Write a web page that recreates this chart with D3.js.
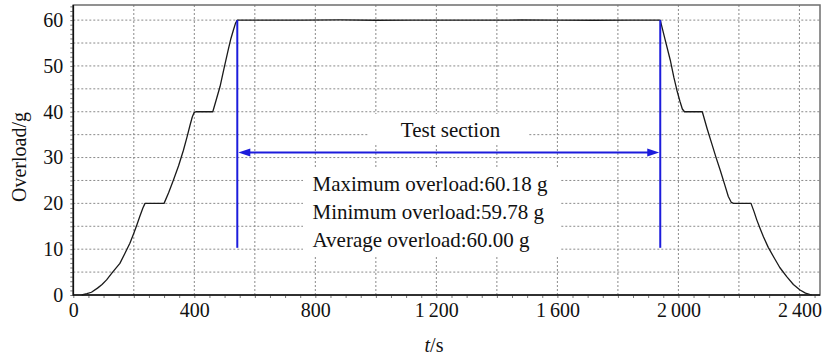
<!DOCTYPE html>
<html>
<head>
<meta charset="utf-8">
<script src="https://cdn.jsdelivr.net/npm/d3@7"></script>
</head>
<body style="margin:0">
<svg id="chart" width="826" height="358" font-family="Liberation Serif"></svg>
<script>
// Overload profile of the centrifuge run (time in s, overload in g)
const timeS = [28, 45, 60, 80, 95, 110, 130, 154, 170, 187, 200, 210, 220, 230, 237, 300,
               315, 331, 348, 364, 376, 386, 393, 399, 405, 461,
               472, 485, 498, 512, 521, 529, 536, 542,
               640, 760, 880, 1000, 1120, 1240, 1360, 1480, 1600, 1720, 1840, 1940,
               1955, 1973, 1985, 1995, 2005, 2013, 2020, 2079,
               2095, 2110, 2124, 2138, 2152, 2165, 2175, 2182, 2240,
               2250, 2259, 2270, 2281, 2297, 2314, 2335, 2358, 2380, 2402, 2420, 2441];
const overloadG = [0, 0.3, 0.6, 1.5, 2.3, 3.3, 5.0, 6.9, 9.0, 11.3, 13.5, 15.3, 17.2, 19.0, 20.0, 20.0,
                   22.3, 25.1, 28.2, 31.6, 34.5, 37.1, 38.8, 39.8, 40.0, 40.0,
                   42.5, 45.5, 49.4, 53.5, 56.0, 57.8, 59.3, 60.0,
                   60.02, 59.98, 60.04, 59.97, 60.02, 60.0, 59.98, 60.03, 60.0, 59.97, 60.02, 60.0,
                   56.0, 51.3, 47.5, 44.7, 42.3, 40.6, 40.0, 40.0,
                   36.3, 33.1, 30.1, 27.3, 24.3, 21.5, 20.2, 20.0, 20.0,
                   18.2, 16.4, 14.5, 12.7, 10.4, 8.4, 6.0, 4.0, 2.3, 1.1, 0.4, 0];

// Axis ticks
const xTicks = [0, 400, 800, 1200, 1600, 2000, 2400];
const yTicks = [0, 10, 20, 30, 40, 50, 60];

// Test section markers
const sectionBounds = [542, 1940];     // s
const markerRange = [10.3, 60];        // g
const arrowLevel = [31.1];             // g
const sectionLabel = ["Test section"];
const statLines = ["Maximum overload:60.18 g", "Minimum overload:59.78 g", "Average overload:60.00 g"];

const FONT = "'Liberation Serif', 'Times New Roman', Times, serif";
const serif = sel => sel.attr("font-family", "Liberation Serif")
  .style("font-family", FONT, "important");

const svg = d3.select("#chart");
const L = 73.3, R = 820, T = 5, B = 295;

const x = d3.scaleLinear().domain([0, 2468]).range([L, R]);
const y = d3.scaleLinear().domain([0, 63.3]).range([B, T]);

const fmt = v => d3.format(",")(v).replace(/,/g, "\u2009");

// dotted grid
const grid = svg.append("g").attr("stroke", "#8a8a8a").attr("stroke-width", 1)
  .attr("stroke-dasharray", "2,2");
grid.selectAll("line.h").data(d3.range(5, 61, 5)).join("line")
  .attr("x1", L).attr("x2", R).attr("y1", d => y(d)).attr("y2", d => y(d));
grid.selectAll("line.v").data(d3.range(200, 2401, 200)).join("line")
  .attr("y1", T).attr("y2", B).attr("x1", d => x(d)).attr("x2", d => x(d));

// white panels behind the annotation text
svg.append("rect").attr("x", 368).attr("y", 114).attr("width", 160).attr("height", 29).attr("fill", "#fff");
svg.append("rect").attr("x", 303).attr("y", 167).attr("width", 258).attr("height", 88).attr("fill", "#fff");

// frame
svg.append("rect").attr("x", L).attr("y", T).attr("width", R - L).attr("height", B - T)
  .attr("fill", "none").attr("stroke", "#6e6e6e").attr("stroke-width", 1.5);

// axes with minor ticks
const yMinor = d3.axisLeft(y).tickValues(d3.range(0, 64, 1)).tickSize(3).tickFormat("");
const gyMinor = svg.append("g").attr("transform", `translate(${L},0)`).call(yMinor);
gyMinor.select(".domain").remove();
gyMinor.selectAll("line").attr("stroke", "#777");

const xMinor = d3.axisBottom(x).tickValues(d3.range(0, 2451, 50)).tickSize(3).tickFormat("");
const gxMinor = svg.append("g").attr("transform", `translate(0,${B})`).call(xMinor);
gxMinor.select(".domain").remove();
gxMinor.selectAll("line").attr("stroke", "#777");

const gy = svg.append("g").attr("transform", `translate(${L},0)`)
  .call(d3.axisLeft(y).tickValues(yTicks).tickSize(0).tickPadding(10));
gy.select(".domain").remove();
gy.call(serif);
gy.selectAll("text").call(serif).attr("font-size", 20).attr("fill", "#111");

const gx = svg.append("g").attr("transform", `translate(0,${B})`)
  .call(d3.axisBottom(x).tickValues(xTicks).tickSize(0).tickPadding(8).tickFormat(fmt));
gx.select(".domain").remove();
gx.call(serif);
gx.selectAll("text").call(serif).attr("font-size", 20).attr("fill", "#111");

svg.append("line").attr("x1", L).attr("x2", L).attr("y1", T).attr("y2", B + 0.75)
  .attr("stroke", "#111").attr("stroke-width", 1.6);
svg.append("line").attr("x1", L).attr("x2", R).attr("y1", B).attr("y2", B)
  .attr("stroke", "#111").attr("stroke-width", 1.6);

// overload curve
const pts = timeS.map((t, i) => [t, overloadG[i]]);
svg.append("path").datum(pts)
  .attr("fill", "none").attr("stroke", "#1a1a1a").attr("stroke-width", 1.3)
  .attr("stroke-linejoin", "round")
  .attr("d", d3.line().x(d => x(d[0])).y(d => y(d[1])));

// test-section markers
const blue = "#1c1cdc";
svg.selectAll("line.mark").data(sectionBounds).join("line")
  .attr("x1", d => x(d)).attr("x2", d => x(d))
  .attr("y1", y(markerRange[0])).attr("y2", y(markerRange[1]))
  .attr("stroke", blue).attr("stroke-width", 2);

const ay = y(arrowLevel[0]);
const ax0 = x(sectionBounds[0]), ax1 = x(sectionBounds[1]);
svg.append("line").attr("x1", ax0 + 10).attr("x2", ax1 - 10).attr("y1", ay).attr("y2", ay)
  .attr("stroke", blue).attr("stroke-width", 2);
svg.append("path").attr("fill", blue)
  .attr("d", `M${ax0 + 1},${ay} L${ax0 + 13},${ay - 4} L${ax0 + 13},${ay + 4} Z`);
svg.append("path").attr("fill", blue)
  .attr("d", `M${ax1 - 1},${ay} L${ax1 - 13},${ay - 4} L${ax1 - 13},${ay + 4} Z`);

svg.append("text").text(sectionLabel[0]).attr("x", 450.5).attr("y", 137)
  .call(serif)
  .attr("text-anchor", "middle").attr("font-size", 21).attr("fill", "#111");

svg.selectAll("text.stat").data(statLines).join("text")
  .attr("class", "stat").text(d => d)
  .call(serif)
  .attr("x", 312.5).attr("y", (d, i) => 191 + i * 28)
  .attr("font-size", 21).attr("fill", "#111");

// axis titles
svg.append("text").attr("transform", "translate(26,157) rotate(-90)")
  .call(serif)
  .attr("text-anchor", "middle").attr("font-size", 20).attr("fill", "#111").text("Overload/g");

const xt = svg.append("text").attr("x", 434).attr("y", 352)
  .call(serif)
  .attr("text-anchor", "middle").attr("font-size", 20).attr("fill", "#111");
xt.append("tspan").attr("font-style", "italic").text("t");
xt.append("tspan").text("/s");
</script>
</body>
</html>
